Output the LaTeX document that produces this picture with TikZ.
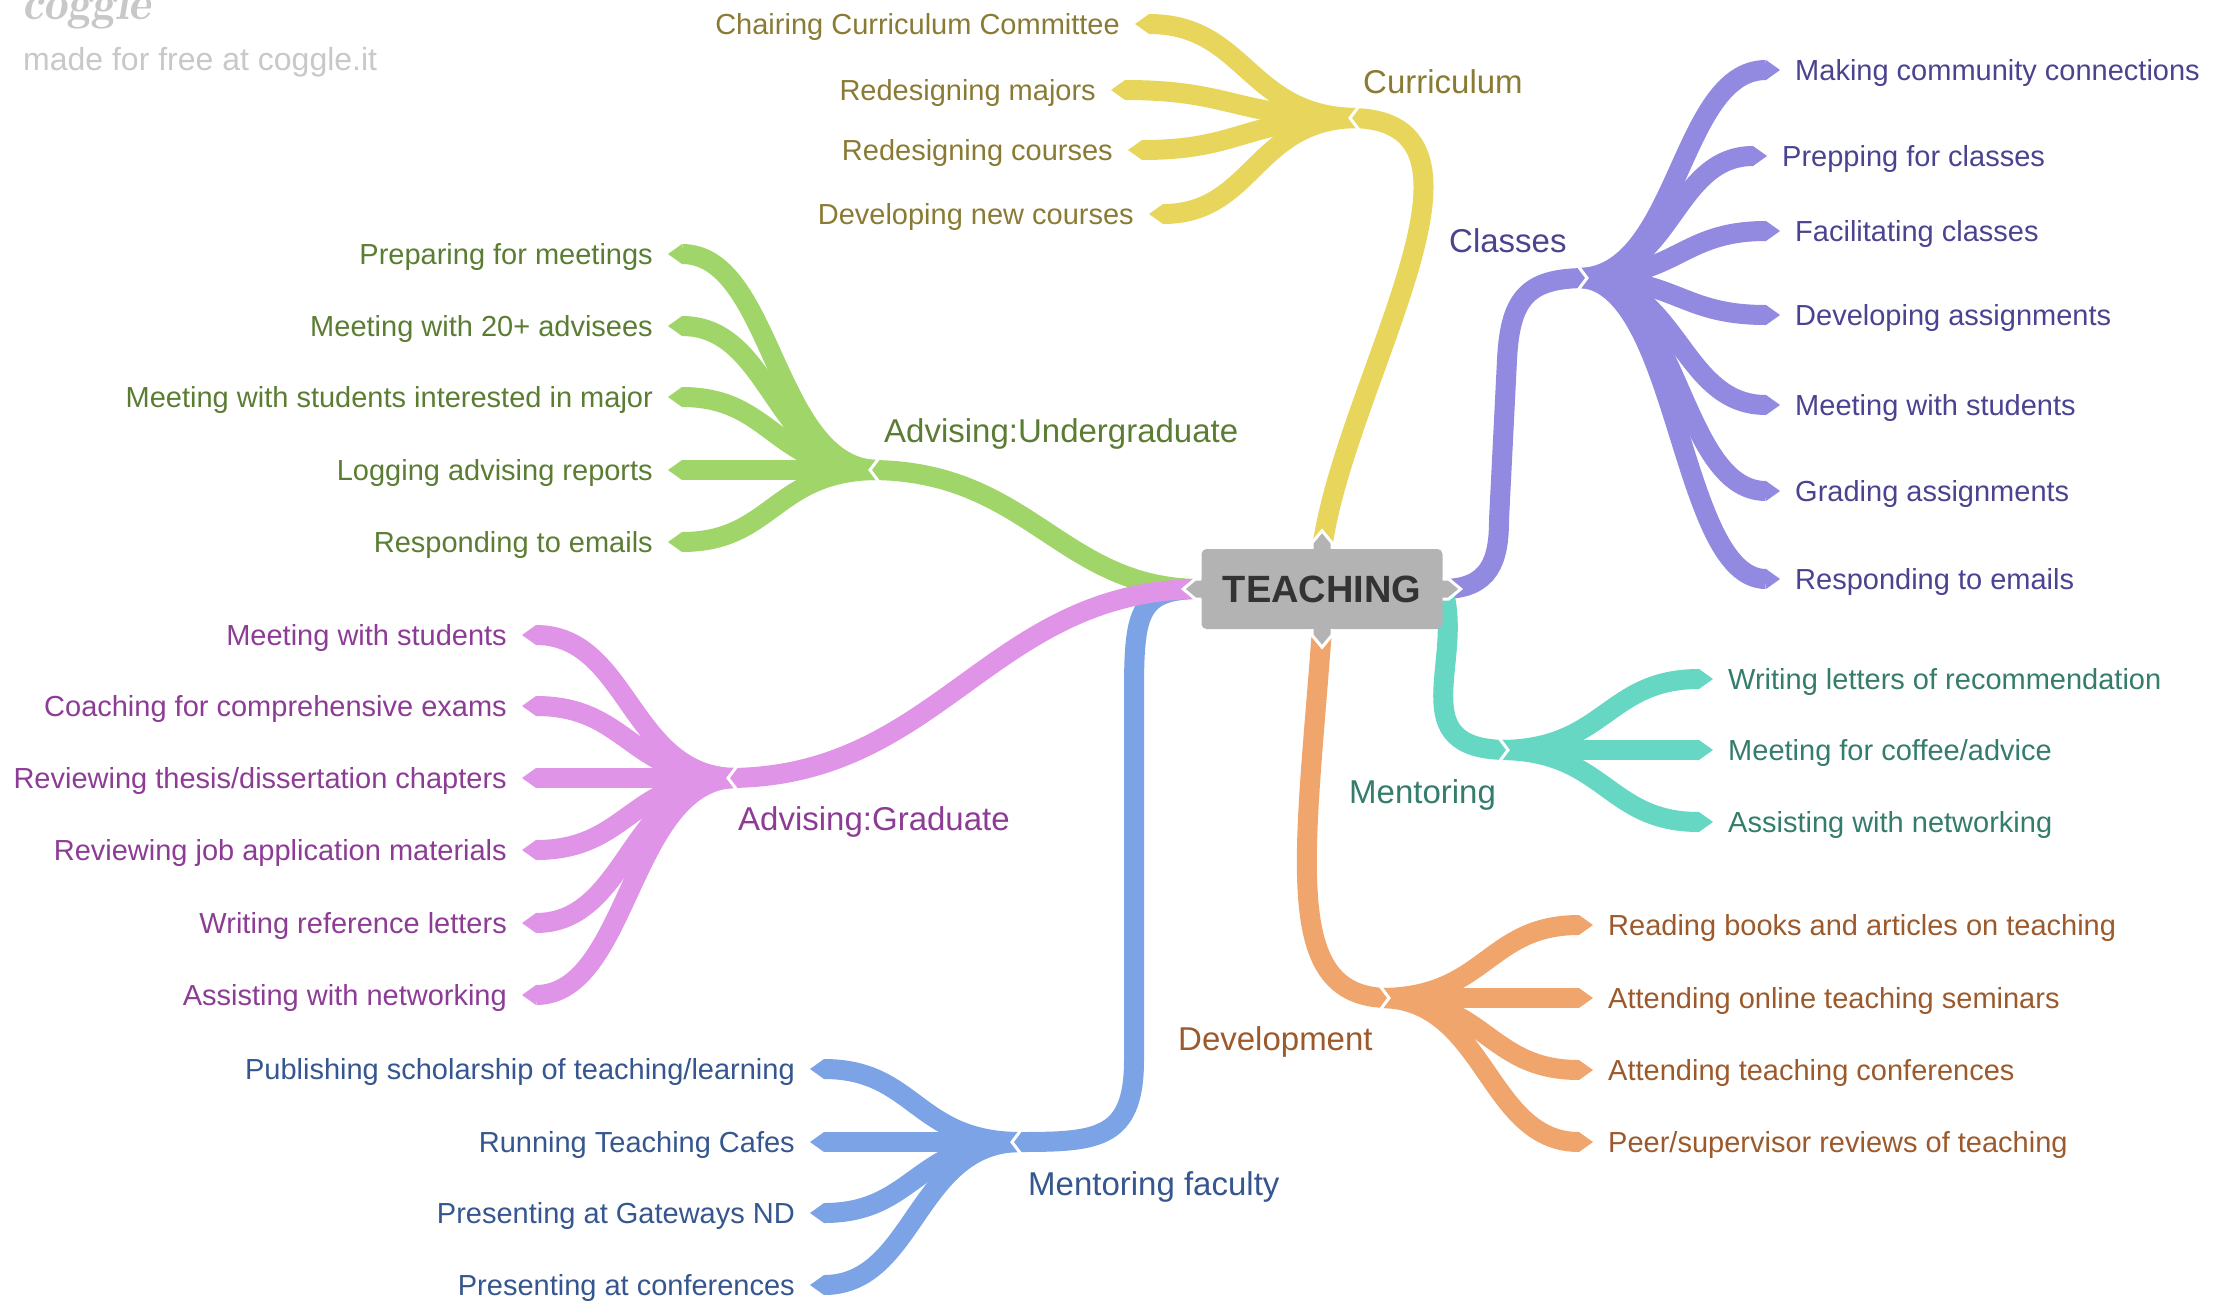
\documentclass[tikz,border=0pt]{standalone}
\usepackage{fontspec}
\setmainfont{Liberation Sans}
\usetikzlibrary{calc,arrows.meta,backgrounds}

% branch (B) and text (T) colours of each topic
\definecolor{curB}{HTML}{E8D55C}\definecolor{curT}{HTML}{8A7B34}
\definecolor{clsB}{HTML}{9289E0}\definecolor{clsT}{HTML}{4A4390}
\definecolor{menB}{HTML}{66D7C3}\definecolor{menT}{HTML}{347C6B}
\definecolor{devB}{HTML}{F0A56D}\definecolor{devT}{HTML}{9C5A2C}
\definecolor{mfB}{HTML}{7BA3E5}\definecolor{mfT}{HTML}{35568E}
\definecolor{agB}{HTML}{E094E7}\definecolor{agT}{HTML}{8D3C95}
\definecolor{auB}{HTML}{A0D56A}\definecolor{auT}{HTML}{5B7D33}
\definecolor{hub}{HTML}{B3B3B3}\definecolor{hubT}{HTML}{333333}
\definecolor{mark}{HTML}{C8C8C8}

\begin{document}
\begin{tikzpicture}[x=1pt,y=-1pt,
  band/.style={line width=20pt, line cap=butt, draw=#1},
  twig/.style={band=#1, -{Triangle[length=14pt,width=20pt,line width=0pt]}},
  hz/.style={to path={.. controls ($(\tikztostart)!0.5!(\tikztostart -| \tikztotarget)$)
      and ($(\tikztotarget)!0.5!(\tikztotarget -| \tikztostart)$) .. (\tikztotarget)}},
  leafL/.style={anchor=east, inner xsep=15pt, inner ysep=0pt, text height=21pt,
      text depth=0pt, font=\fontsize{29}{34}\selectfont, text=#1},
  leafR/.style={leafL=#1, anchor=west},
  topic/.style={anchor=west, inner sep=0pt, text height=24pt, text depth=0pt,
      font=\fontsize{33}{40}\selectfont, text=#1},
  chev/.style={draw=white, line width=3pt, line join=miter},
  chevL/.pic={\draw[chev] (9,-12) -- (0,0) -- (9,12);},
  chevR/.pic={\draw[chev] (-9,-12) -- (0,0) -- (-9,12);},
  tab/.pic={\fill[hub] (-2,-10) -- (6,-10) -- (18,0) -- (6,10) -- (-2,10) -- cycle;
            \draw[chev] (0,-10) -- (6,-10) -- (18,0) -- (6,10) -- (0,10);},
]
\useasboundingbox (0,0) rectangle (2226,1302);

% watermark
\node[anchor=base west, inner sep=0pt, text=mark,
      font=\fontfamily{lmr}\bfseries\itshape\fontsize{48}{52}\selectfont] (logo) at (22,19) {coggle};
\node[anchor=west, inner sep=0pt, text=mark, text height=23pt, text depth=0pt,
      font=\fontsize{32}{38}\selectfont] (credit) at (23,58.5) {made for free at coggle.it};

% central topic
\node[fill=hub, rounded corners=5pt, minimum width=241pt, minimum height=80pt, inner sep=0pt,
      text=hubT, font=\bfseries\fontsize{38}{44}\selectfont] (hub) at (1322,589) {TEACHING};
\pic[rotate=0] at (hub.east) {tab};
\pic[rotate=180] at (hub.west) {tab};
\pic[rotate=90] at (hub.north) {tab};
\pic[rotate=-90] at (hub.south) {tab};

% junctions (apex of the chevron) and child starts
\coordinate (curJ) at (1350,118);  \coordinate (curS) at (1359,118);
\coordinate (clsJ) at (1587,278);  \coordinate (clsS) at (1578,278);
\coordinate (menJ) at (1508,750);  \coordinate (menS) at (1499,750);
\coordinate (devJ) at (1389,998);  \coordinate (devS) at (1380,998);
\coordinate (mfJ)  at (1012,1142); \coordinate (mfS)  at (1021,1142);
\coordinate (agJ)  at (728,778);   \coordinate (agS)  at (737,778);
\coordinate (auJ)  at (870,470);   \coordinate (auS)  at (879,470);

% topic labels
\node[topic=curT] (curL) at (1363,81) {Curriculum};
\node[topic=clsT] (clsL) at (1449,240) {Classes};
\node[topic=menT] (menL) at (1349,791) {Mentoring};
\node[topic=devT] (devL) at (1178,1038) {Development};
\node[topic=mfT]  (mfL)  at (1028,1183) {Mentoring faculty};
\node[topic=agT]  (agL)  at (738,818) {Advising:Graduate};
\node[topic=auT]  (auL)  at (884,430) {Advising:Undergraduate};

% leaves
\node[leafL=curT] (c1) at (1135,24) {Chairing Curriculum Committee};
\node[leafL=curT] (c2) at (1111,90) {Redesigning majors};
\node[leafL=curT] (c3) at (1128,150) {Redesigning courses};
\node[leafL=curT] (c4) at (1149,214) {Developing new courses};

\node[leafR=clsT] (k1) at (1780,70) {Making community connections};
\node[leafR=clsT] (k2) at (1767,156) {Prepping for classes};
\node[leafR=clsT] (k3) at (1780,231) {Facilitating classes};
\node[leafR=clsT] (k4) at (1780,315) {Developing assignments};
\node[leafR=clsT] (k5) at (1780,405) {Meeting with students};
\node[leafR=clsT] (k6) at (1780,491) {Grading assignments};
\node[leafR=clsT] (k7) at (1780,579) {Responding to emails};

\node[leafR=menT] (m1) at (1713,679) {Writing letters of recommendation};
\node[leafR=menT] (m2) at (1713,750) {Meeting for coffee/advice};
\node[leafR=menT] (m3) at (1713,822) {Assisting with networking};

\node[leafR=devT] (d1) at (1593,925) {Reading books and articles on teaching};
\node[leafR=devT] (d2) at (1593,998) {Attending online teaching seminars};
\node[leafR=devT] (d3) at (1593,1070) {Attending teaching conferences};
\node[leafR=devT] (d4) at (1593,1142) {Peer/supervisor reviews of teaching};

\node[leafL=mfT] (f1) at (810,1069) {Publishing scholarship of teaching/learning};
\node[leafL=mfT] (f2) at (810,1142) {Running Teaching Cafes};
\node[leafL=mfT] (f3) at (810,1213) {Presenting at Gateways ND};
\node[leafL=mfT] (f4) at (810,1285) {Presenting at conferences};

\node[leafL=agT] (g1) at (522,635) {Meeting with students};
\node[leafL=agT] (g2) at (522,706) {Coaching for comprehensive exams};
\node[leafL=agT] (g3) at (522,778) {Reviewing thesis/dissertation chapters};
\node[leafL=agT] (g4) at (522,850) {Reviewing job application materials};
\node[leafL=agT] (g5) at (522,923) {Writing reference letters};
\node[leafL=agT] (g6) at (522,995) {Assisting with networking};

\node[leafL=auT] (u1) at (668,254) {Preparing for meetings};
\node[leafL=auT] (u2) at (668,326) {Meeting with 20+ advisees};
\node[leafL=auT] (u3) at (668,397) {Meeting with students interested in major};
\node[leafL=auT] (u4) at (668,470) {Logging advising reports};
\node[leafL=auT] (u5) at (668,542) {Responding to emails};

\begin{pgfonlayer}{background}
  % main branches
  \draw[band=curB] (hub.north) .. controls (1345,380) and (1520,118) .. (curJ);
  \draw[band=clsB] (hub.east) .. controls (1490,589) and (1499,560) .. (1499,520)
        -- (1507,360) .. controls (1510,295) and (1530,278) .. (clsJ);
  \draw[band=menB] (hub.east) .. controls (1465,660) and (1400,750) .. (menJ);
  \draw[band=devB] (hub.south) .. controls (1305,860) and (1280,998) .. (devJ);
  \draw[band=auB] (hub.west) .. controls (1060,589) and (1030,470) .. (auJ);
  \draw[band=mfB] (hub.west) .. controls (1140,589) and (1134,610) .. (1134,690)
        -- (1134,1060) .. controls (1134,1142) and (1095,1142) .. (mfJ);
  \draw[band=agB] (hub.west) .. controls (990,589) and (940,778) .. (agJ);

  % sub-branches
  \foreach \l in {c1,c2,c3,c4} \draw[twig=curB] (curS) to[hz] (\l.east);
  \foreach \l in {k1,k2,k3,k4,k5,k6,k7} \draw[twig=clsB] (clsS) to[hz] (\l.west);
  \foreach \l in {m1,m2,m3} \draw[twig=menB] (menS) to[hz] (\l.west);
  \foreach \l in {d1,d2,d3,d4} \draw[twig=devB] (devS) to[hz] (\l.west);
  \foreach \l in {f1,f2,f3,f4} \draw[twig=mfB] (mfS) to[hz] (\l.east);
  \foreach \l in {g1,g2,g3,g4,g5,g6} \draw[twig=agB] (agS) to[hz] (\l.east);
  \foreach \l in {u1,u2,u3,u4,u5} \draw[twig=auB] (auS) to[hz] (\l.east);

  % joints between a branch and its sub-branches
  \pic at (curJ) {chevL};
  \pic at (mfJ) {chevL};
  \pic at (agJ) {chevL};
  \pic at (auJ) {chevL};
  \pic at (clsJ) {chevR};
  \pic at (menJ) {chevR};
  \pic at (devJ) {chevR};
\end{pgfonlayer}
\end{tikzpicture}
\end{document}
